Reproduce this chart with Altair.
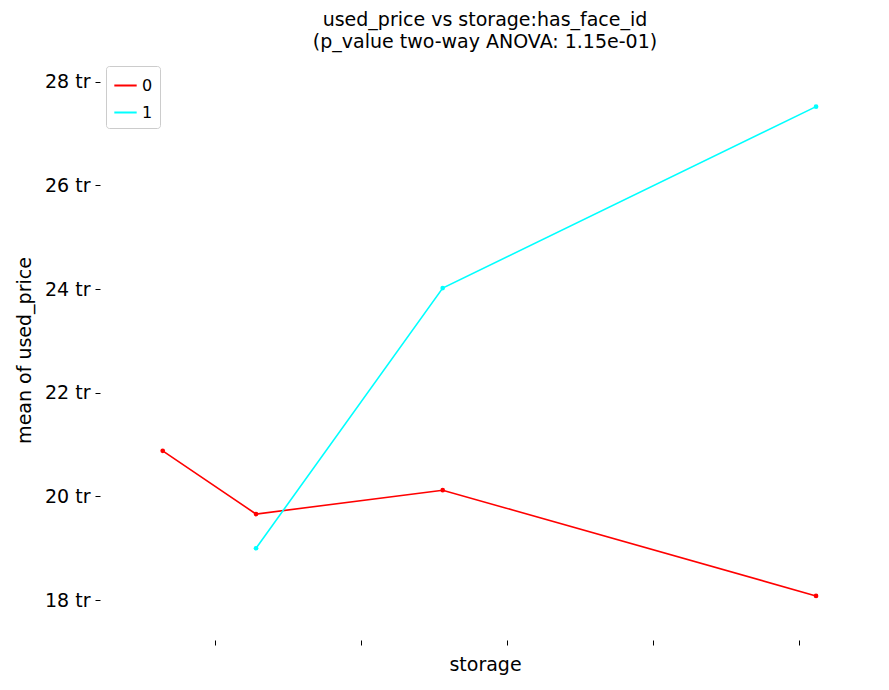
import altair as alt
import pandas as pd

storage_0 = [64, 128, 256, 512]
price_0 = [20.88, 19.66, 20.12, 18.08]
storage_1 = [128, 256, 512]
price_1 = [19.0, 24.02, 27.52]

df = pd.concat([
    pd.DataFrame({"storage": storage_0, "price": price_0, "has_face_id": "0"}),
    pd.DataFrame({"storage": storage_1, "price": price_1, "has_face_id": "1"}),
])

font = "DejaVu Sans"
color = alt.Color(
    "has_face_id:N",
    scale=alt.Scale(domain=["0", "1"], range=["#ff0000", "#00ffff"]),
    legend=alt.Legend(
        title=None, orient="none", legendX=6, legendY=6, strokeColor="#cccccc",
        fillColor="white", padding=7, cornerRadius=3, labelFont=font,
        labelFontSize=16, symbolType="stroke", symbolStrokeWidth=2, symbolSize=500,
        rowPadding=6,
    ),
)

chart = (
    alt.Chart(df)
    .mark_line(point=alt.OverlayMarkDef(size=22, filled=True), strokeWidth=1.6)
    .encode(
        x=alt.X("storage:Q", title="storage",
                scale=alt.Scale(domain=[21, 549], nice=False, zero=False),
                axis=alt.Axis(values=[100, 200, 300, 400, 500], labels=False,
                              domain=False, grid=False, tickColor="black",
                              tickSize=5, titleFont=font, titleFontSize=19,
                              titleFontWeight="normal", titleColor="black",
                              titlePadding=10)),
        y=alt.Y("price:Q", title="mean of used_price",
                scale=alt.Scale(domain=[17.23, 28.42], nice=False, zero=False),
                axis=alt.Axis(values=[18, 20, 22, 24, 26, 28],
                              labelExpr="datum.value + ' tr'", domain=False,
                              grid=False, tickColor="black", tickSize=5,
                              labelPadding=5,
                              labelFont=font, labelFontSize=19, labelColor="black",
                              titleFont=font, titleFontSize=19,
                              titleFontWeight="normal", titleColor="black",
                              titlePadding=10)),
        color=color,
    )
    .properties(
        width=770, height=580,
        autosize=alt.AutoSizeParams(type="none"),
        padding={"left": 92, "top": 52, "right": 10, "bottom": 50},
        title=alt.TitleParams(
            ["used_price vs storage:has_face_id",
             "(p_value two-way ANOVA: 1.15e-01)"],
            font=font, fontSize=19, fontWeight="normal", color="black",
            anchor="middle", offset=8, lineHeight=22,
        ),
    )
    .configure_view(stroke=None)
)

chart.save("out.html", embed_options={"renderer": "svg", "actions": False})
